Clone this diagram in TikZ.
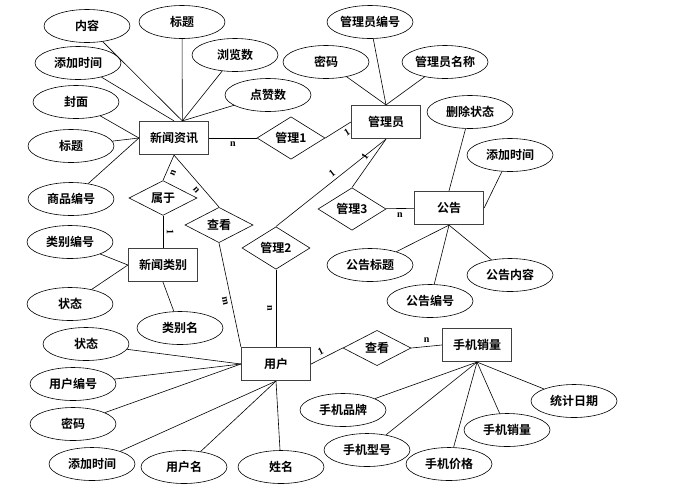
\documentclass[tikz,border=0pt]{standalone}
\usepackage{fontspec}
\setmainfont{Liberation Serif}
\newfontfamily\cjk{Noto Sans CJK SC}[BoldFont={Noto Sans CJK SC Bold}]
\usetikzlibrary{shapes.geometric}

\tikzset{
    attr/.style={draw, ellipse, line width=0.6pt, minimum width=86pt, minimum height=33pt, inner sep=0pt, font=\cjk\bfseries\fontsize{12}{14}\selectfont},
    entity/.style={draw=black!75, rectangle, line width=1.2pt, minimum width=69pt, minimum height=33pt, inner sep=0pt, font=\cjk\bfseries\fontsize{12}{14}\selectfont},
    rel/.style={draw, diamond, line width=0.6pt, minimum width=68pt, minimum height=33pt, inner sep=0pt, font=\cjk\bfseries\fontsize{12}{14}\selectfont},
    card/.style={font=\bfseries\fontsize{10}{10}\selectfont, inner sep=3.5pt}
}

\begin{document}
\begin{tikzpicture}[x=1pt, y=-1pt, line width=0.6pt]
    \useasboundingbox (0,0) rectangle (700,496);

    % Entities
    \node[entity] (news) at (174,138) {新闻资讯};
    \node[entity] (admin) at (386,122) {管理员};
    \node[entity] (notice) at (449,208) {公告};
    \node[entity] (cat) at (163,265) {新闻类别};
    \node[entity] (user) at (276,364) {用户};
    \node[entity] (phone) at (477,345) {手机销量};

    % Relations
    \node[rel] (m1) at (291,138) {管理1};
    \node[rel] (m2) at (276,248) {管理2};
    \node[rel] (m3) at (352,209) {管理3};
    \node[rel] (belong) at (163,198) {属于};
    \node[rel] (see1) at (219,225) {查看};
    \node[rel] (see2) at (377,348) {查看};

    % News attributes
    \node[attr] (na1) at (87,26) {内容};
    \node[attr] (na2) at (182,22) {标题};
    \node[attr] (na3) at (78,63) {添加时间};
    \node[attr] (na4) at (235,55) {浏览数};
    \node[attr] (na5) at (76,102) {封面};
    \node[attr] (na6) at (268,95) {点赞数};
    \node[attr] (na7) at (71,146) {标题};
    \node[attr] (na8) at (71,199) {商品编号};
    \draw (na1) -- (news.64);
    \draw (na2) -- (news.64);
    \draw (na4) -- (news.64);
    \draw (na6) -- (news.64);
    \draw (na3) -- (news.north);
    \draw (na5) -- (news.west);
    \draw (na7) -- (news.west);
    \draw (na8) -- (news.west);

    % Admin attributes
    \node[attr] (aa1) at (370,22) {管理员编号};
    \node[attr] (aa2) at (326,62) {密码};
    \node[attr] (aa3) at (445,62) {管理员名称};
    \draw (aa1) -- (admin.north);
    \draw (aa2) -- (admin.north);
    \draw (aa3) -- (admin.north);

    % Notice attributes
    \node[attr] (ta1) at (470,112) {删除状态};
    \node[attr] (ta2) at (510,155) {添加时间};
    \node[attr] (ta3) at (370,265) {公告标题};
    \node[attr] (ta4) at (430,301) {公告编号};
    \node[attr] (ta5) at (510,275) {公告内容};
    \draw (ta1) -- (notice.north);
    \draw (ta2) -- (notice.east);
    \draw (ta3) -- (notice.south);
    \draw (ta4) -- (notice.south);
    \draw (ta5) -- (notice.south);

    % Category attributes
    \node[attr] (ca1) at (70,242) {类别编号};
    \node[attr] (ca2) at (70,304) {状态};
    \node[attr] (ca3) at (180,328) {类别名};
    \draw (ca1) -- (cat.west);
    \draw (ca2) -- (cat.west);
    \draw (ca3) -- (cat.south);

    % User attributes
    \node[attr] (ua1) at (86,344) {状态};
    \node[attr] (ua2) at (73,384) {用户编号};
    \node[attr] (ua3) at (73,424) {密码};
    \node[attr] (ua4) at (92,464) {添加时间};
    \node[attr] (ua5) at (184,467) {用户名};
    \node[attr] (ua6) at (281,467) {姓名};
    \draw (ua1) -- (user.west);
    \draw (ua2) -- (user.west);
    \draw (ua3) -- (user.west);
    \draw (ua4) -- (user.south);
    \draw (ua5) -- (user.south);
    \draw (ua6) -- (user.south);

    % Phone sales attributes
    \node[attr] (pa1) at (343,410) {手机品牌};
    \node[attr] (pa2) at (367,450) {手机型号};
    \node[attr] (pa3) at (449,464) {手机价格};
    \node[attr] (pa4) at (507,430) {手机销量};
    \node[attr] (pa5) at (574,401) {统计日期};
    \draw (pa1) -- (phone.south);
    \draw (pa2) -- (phone.south);
    \draw (pa3) -- (phone.south);
    \draw (pa4) -- (phone.south);
    \draw (pa5) -- (phone.south);

    % Relationship lines with cardinalities
    \draw (news) -- node[card, below] {n} (m1);
    \draw (m1.east) -- node[card, sloped, below, pos=0.7] {1} (admin.west);
    \draw (admin.south) -- node[card, sloped, above, pos=0.45] {1} (m3.north);
    \draw (admin.south) -- node[card, sloped, above, pos=0.45] {1} (m2.north);
    \draw (m3) -- node[card, below] {n} (notice);
    \draw (news.south) -- node[card, sloped, below, pos=0.6] {n} (belong.north);
    \draw (news.south) -- node[card, sloped, below, pos=0.6] {n} (see1.north);
    \draw (belong.south) -- node[card, sloped, above] {1} (cat.north);
    \draw (see1.south) -- node[card, sloped, below, pos=0.55] {m} (user.north west);
    \draw (m2.south) -- node[card, sloped, below] {n} (user.north);
    \draw (user.east) -- node[card, sloped, above, pos=0.4] {1} (see2.west);
    \draw (see2.east) -- node[card, above] {n} (phone.west);
\end{tikzpicture}
\end{document}
